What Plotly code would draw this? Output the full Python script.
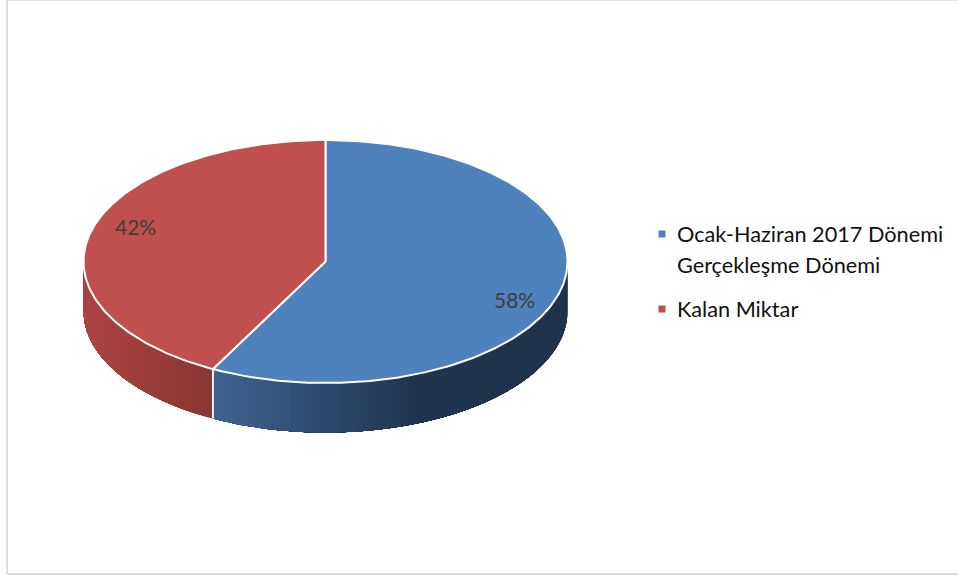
import numpy as np
import plotly.graph_objects as go

categories = ["Ocak-Haziran 2017 Dönemi<br>Gerçekleşme Dönemi", "Kalan Miktar"]
values = [57.7, 42.3]
top_colors = ["#4f81bd", "#bf504d"]

W, H = 958, 577
CX, CY, RX, RY, DEPTH = 325.5, 261.5, 242, 121.5, 49.5
FONT = "Lato"


def ex(t):
    return CX + RX * np.sin(t)


def ey(t):
    return CY - RY * np.cos(t)


def lerp_color(stops, x):
    xs = [s[0] for s in stops]
    return "rgb(%d,%d,%d)" % tuple(
        int(round(np.interp(x, xs, [s[1][i] for s in stops]))) for i in range(3)
    )


wall_stops = [
    [(213, (64, 100, 145)), (300, (48, 79, 117)), (420, (31, 52, 78)), (568, (31, 51, 76))],
    [(84, (172, 68, 65)), (213, (137, 54, 52))],
]

fractions = np.array(values) / sum(values)
edges = np.concatenate([[0], np.cumsum(fractions)]) * 2 * np.pi
traces = []

# side walls: painted in overlapping bands so that no seams show
visible_arcs = [(np.pi / 2, edges[1]), (edges[1], 3 * np.pi / 2)]
for i, (lo, hi) in enumerate(visible_arcs):
    band_starts = np.linspace(lo, hi, int((hi - lo) / 0.02), endpoint=False)
    for a in band_starts:
        seg = np.linspace(a, hi, 60)
        xs = np.concatenate([ex(seg), ex(seg[::-1])])
        ys = np.concatenate([ey(seg), ey(seg[::-1]) + DEPTH])
        c = lerp_color(wall_stops[i], float(ex(a + 0.01)))
        traces.append(go.Scatter(x=xs, y=ys, mode="lines", fill="toself", fillcolor=c,
                                 line=dict(width=0), hoverinfo="skip", showlegend=False))

# white edge between the two walls
t0 = edges[1]
traces.append(go.Scatter(x=[ex(t0), ex(t0)], y=[ey(t0), ey(t0) + DEPTH], mode="lines",
                         line=dict(color="white", width=1.8), hoverinfo="skip", showlegend=False))

# top faces
for i in range(len(values)):
    ts = np.linspace(edges[i], edges[i + 1], 240)
    xs = np.concatenate([[CX], ex(ts), [CX]])
    ys = np.concatenate([[CY], ey(ts), [CY]])
    traces.append(go.Scatter(x=xs, y=ys, mode="lines", fill="toself", fillcolor=top_colors[i],
                             line=dict(color="white", width=2), name=categories[i],
                             hoverinfo="name", showlegend=False))

# legend swatches
swatch_y = [234, 309]
traces.append(go.Scatter(x=[662, 662], y=swatch_y, mode="markers",
                         marker=dict(symbol="square", size=7, color=top_colors, line=dict(width=0)),
                         hoverinfo="skip", showlegend=False))

fig = go.Figure(traces)

annotations = []
label_pos = [(514, 299), (135, 226.5)]
for v, (x, y) in zip(values, label_pos):
    annotations.append(dict(x=x, y=y, text=f"{v:.0f}%", showarrow=False, xanchor="center", yanchor="middle",
                            font=dict(family=FONT, size=21, color="#404040")))
LEGEND_X, LINE_GAP = 674.5, 31
for name, y0 in zip(categories, swatch_y):
    for k, line in enumerate(name.split("<br>")):
        annotations.append(dict(x=LEGEND_X, y=y0 + k * LINE_GAP, text=line, showarrow=False,
                                xanchor="left", yanchor="middle", align="left",
                                font=dict(family=FONT, size=21.7, color="#111111")))

frame = dict(type="line", xref="x", yref="y", line=dict(color="#dcdcdc", width=2))
shapes = [
    dict(frame, x0=7, x1=7, y0=0, y1=574),
    dict(frame, x0=7, x1=958, y0=574, y1=574),
    dict(frame, x0=7, x1=958, y0=0.5, y1=0.5, line=dict(color="#e4e4e4", width=1)),
]

fig.update_layout(
    width=W, height=H, margin=dict(l=0, r=0, t=0, b=0),
    paper_bgcolor="white", plot_bgcolor="white", showlegend=False,
    xaxis=dict(range=[0, W], visible=False, fixedrange=True),
    yaxis=dict(range=[H, 0], visible=False, fixedrange=True),
    annotations=annotations, shapes=shapes,
)
fig.write_html("out.html", config=dict(displayModeBar=False),
               post_script="document.body.style.margin='0';document.body.style.overflow='hidden';")
